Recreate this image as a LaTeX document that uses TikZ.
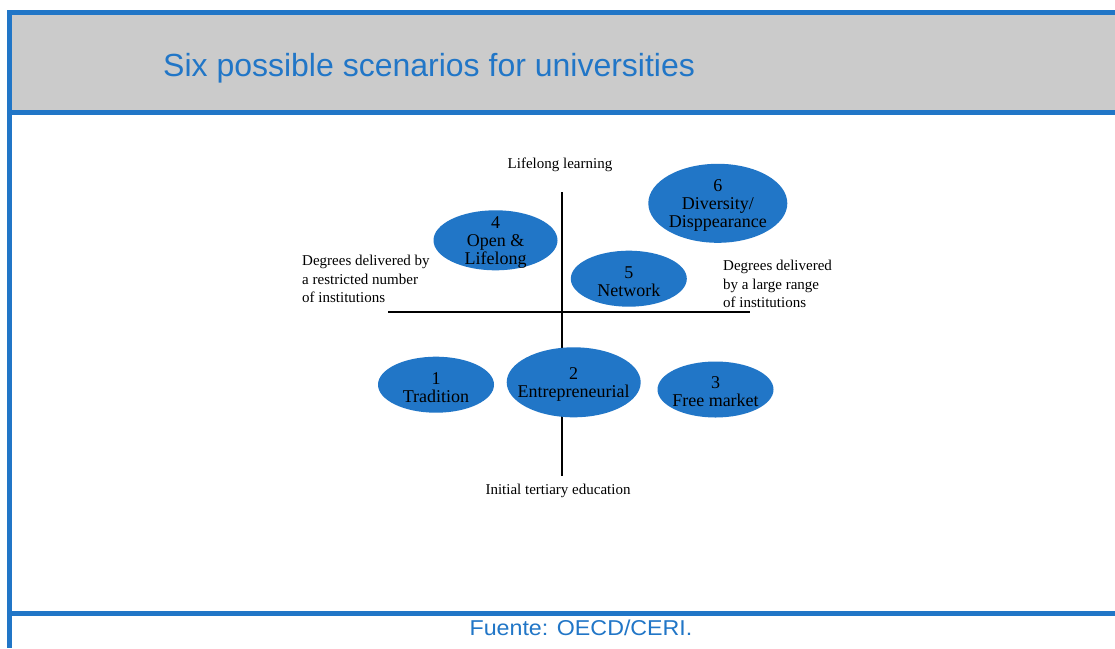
\documentclass[tikz,border=0pt]{standalone}
\usepackage{fontspec}
\setmainfont{Liberation Serif}
\newfontfamily\arialfont{Liberation Sans}
\newfontfamily\footfont[FakeStretch=1.08]{Liberation Sans}
\usetikzlibrary{shapes.geometric}
\definecolor{frameblue}{HTML}{2176C7}
\definecolor{bandgray}{HTML}{CBCBCB}
\definecolor{ellblue}{HTML}{2176C7}
\begin{document}
\begin{tikzpicture}[x=1pt,y=-1pt,
  scen/.style={ellipse, fill=ellblue, inner sep=0pt},
  scentext/.style={inner sep=0pt, align=center, yshift=-2.5pt,
    font=\fontsize{18}{18}\selectfont, text=black},
  lbl/.style={font=\fontsize{15}{18.3}\selectfont, inner sep=0pt},
  axisline/.style={line width=1.3pt, black}]
\useasboundingbox (0,0) rectangle (1115,648);
\fill[white] (0,0) rectangle (1115,648);
% frame
\fill[bandgray] (12,15) rectangle (1115,110);
\fill[frameblue] (7,10) rectangle (1115,15);
\fill[frameblue] (7,110) rectangle (1115,115);
\fill[frameblue] (7,611) rectangle (1115,616);
\fill[frameblue] (7,10) rectangle (12,648);
\node[anchor=base west, inner sep=0pt, text=frameblue,
  font=\arialfont\fontsize{32}{36}\selectfont] (title) at (163,76) {Six possible scenarios for universities};
\node[anchor=base, inner sep=0pt, text=frameblue,
  font=\footfont\fontsize{21.5}{26}\selectfont] (src) at (581,635) {Fuente: OECD/CERI.};
% axes
\coordinate (vtop) at (562,192);
\coordinate (vbot) at (562,476);
\coordinate (hl) at (388,312);
\coordinate (hr) at (750,312);
\draw[axisline] (vtop) -- (vbot);
\draw[axisline] (hl) -- (hr);
% axis labels
\node[lbl] (lifelong) at (560,165) {Lifelong learning};
\node[lbl] (initial) at (558,491) {Initial tertiary education};
\node[lbl, anchor=west, align=left] (restricted) at (302,279) {Degrees delivered by\\a restricted number\\of institutions};
\node[lbl, anchor=west, align=left] (large) at (723,284) {Degrees delivered\\by a large range\\of institutions};
% scenarios
\node[scen, minimum width=124pt, minimum height=60pt] (s4) at (495.5,240.3) {};
\node[scentext] (t4) at (s4) {4\\Open \&\\Lifelong};
\node[scen, minimum width=116pt, minimum height=56pt] (s5) at (628.8,278.7) {};
\node[scentext] (t5) at (s5) {5\\Network};
\node[scen, minimum width=139pt, minimum height=79pt] (s6) at (717.8,203.3) {};
\node[scentext] (t6) at (s6) {6\\Diversity/\\Disppearance};
\node[scen, minimum width=116pt, minimum height=56pt] (s1) at (436,384.7) {};
\node[scentext] (t1) at (s1) {1\\Tradition};
\node[scen, minimum width=134pt, minimum height=70pt] (s2) at (573.7,382.3) {};
\node[scentext] (t2) at (s2) {2\\Entrepreneurial};
\node[scen, minimum width=116pt, minimum height=56pt] (s3) at (715.5,389.5) {};
\node[scentext] (t3) at (s3) {3\\Free market};
\end{tikzpicture}
\end{document}
